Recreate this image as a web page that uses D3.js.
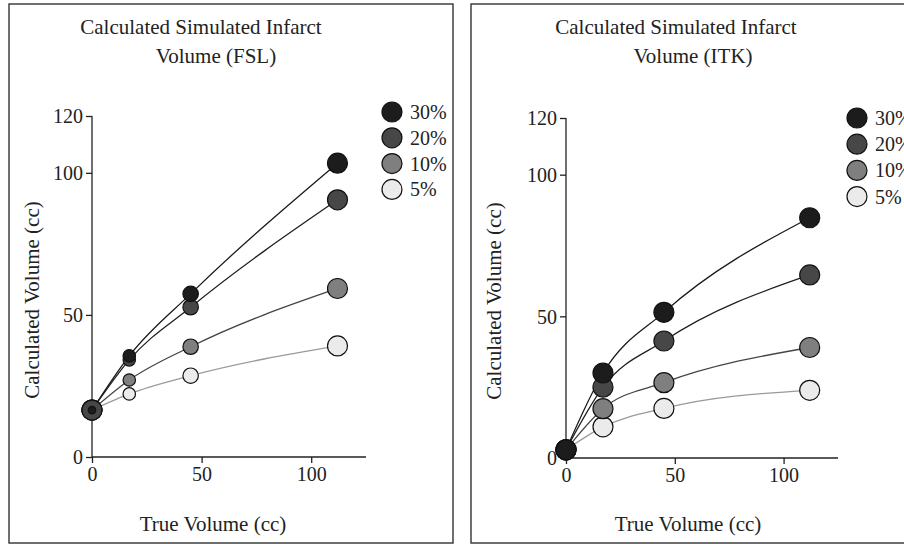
<!DOCTYPE html>
<meta charset="utf-8">
<script src="https://d3js.org/d3.v7.min.js"></script>
<title>Calculated Simulated Infarct Volume</title>
<style>
  body { margin: 0; background: white; }
  svg text { font-family: "Liberation Serif", "DejaVu Serif", serif; fill: #222; }
</style>
<div id="chart"></div>
<script>
// true volumes (cc) on the x axis
var trueVolumes = [0, 17, 45, 112];
var seriesLabels = ["30%", "20%", "10%", "5%"];

// calculated volumes, FSL
var fsl30 = [16.5, 35.6, 57.4, 103.4];
var fsl20 = [16.5, 34.2, 52.7, 90.5];
var fsl10 = [16.5, 27.1, 38.8, 59.3];
var fsl5  = [16.5, 22.2, 28.6, 39.1];

// calculated volumes, ITK
var itk30 = [2.9, 30.0, 51.4, 84.8];
var itk20 = [2.9, 25.0, 41.3, 64.6];
var itk10 = [2.9, 17.4, 26.6, 39.0];
var itk5  = [2.9, 11.0, 17.5, 23.9];

var xTicks = [0, 50, 100];
var yTicks = [0, 50, 100, 120];

var fills = ["#1c1c1c", "#474747", "#7f7f7f", "#ebebeb"];
var lineColors = ["#1a1a1a", "#1f1f1f", "#444", "#9a9a9a"];

var svg = d3.select("#chart").append("svg")
    .attr("width", 904)
    .attr("height", 544);

var panels = [
  { title: ["Calculated Simulated Infarct", "Volume (FSL)"], titleX: [201, 216],
    values: [fsl30, fsl20, fsl10, fsl5],
    frame: [9, 4, 444, 539], x0: 92, x1: 366, y0: 457, y1: 116,
    yTitleX: 39, yTitleY: 300, xTitleX: 213, legendX: 392, legendY: 112, legendStep: 25.8,
    sized: true },
  { title: ["Calculated Simulated Infarct", "Volume (ITK)"], titleX: [676, 693],
    values: [itk30, itk20, itk10, itk5],
    frame: [471, 4, 460, 539], x0: 566, x1: 838, y0: 458, y1: 118,
    yTitleX: 501, yTitleY: 301, xTitleX: 688, legendX: 857, legendY: 118, legendStep: 26.2,
    sized: false }
];

panels.forEach(function(p) {
  var g = svg.append("g");

  g.append("rect")
    .attr("x", p.frame[0]).attr("y", p.frame[1])
    .attr("width", p.frame[2]).attr("height", p.frame[3])
    .attr("fill", "none").attr("stroke", "#333").attr("stroke-width", 1.4);

  g.selectAll(".title").data(p.title).enter().append("text")
    .attr("x", function(d, i) { return p.titleX[i]; })
    .attr("y", function(d, i) { return 34 + i * 29; })
    .attr("text-anchor", "middle")
    .style("font-size", "21px")
    .text(function(d) { return d; });

  var x = d3.scaleLinear().domain([0, 125]).range([p.x0, p.x1]);
  var y = d3.scaleLinear().domain([0, 120]).range([p.y0, p.y1]);

  var xAxis = g.append("g")
    .attr("transform", "translate(0," + p.y0 + ")")
    .call(d3.axisBottom(x).tickValues(xTicks).tickSize(6).tickPadding(4));
  var yAxis = g.append("g")
    .attr("transform", "translate(" + p.x0 + ",0)")
    .call(d3.axisLeft(y).tickValues(yTicks).tickSize(6).tickPadding(3));
  [xAxis, yAxis].forEach(function(a) {
    a.select(".domain").attr("stroke", "#222").attr("stroke-width", 1.3);
    a.selectAll(".tick line").attr("stroke", "#222").attr("stroke-width", 1.3);
    a.selectAll(".tick text").style("font-size", "20px")
      .style("font-family", "Liberation Serif, serif").attr("fill", "#222");
  });
  // axis lines stop at the data range
  xAxis.select(".domain").attr("d", "M" + p.x0 + ",0H" + p.x1);
  yAxis.select(".domain").attr("d", "M0," + p.y0 + "V" + y(120));
  yAxis.selectAll(".tick text").attr("dy", "0.34em");

  g.append("text")
    .attr("transform", "translate(" + p.yTitleX + "," + p.yTitleY + ") rotate(-90)")
    .attr("text-anchor", "middle")
    .style("font-size", "21px")
    .text("Calculated Volume (cc)");

  g.append("text")
    .attr("x", p.xTitleX).attr("y", 531)
    .attr("text-anchor", "middle")
    .style("font-size", "21px")
    .text("True Volume (cc)");

  var line = d3.line()
    .x(function(d) { return x(d[0]); })
    .y(function(d) { return y(d[1]); })
    .curve(d3.curveMonotoneX);

  var series = p.values.map(function(vals, i) {
    return { i: i, pts: trueVolumes.map(function(t, j) { return [t, vals[j]]; }) };
  });

  // lines, lightest underneath
  series.slice().reverse().forEach(function(s) {
    g.append("path")
      .attr("d", line(s.pts))
      .attr("fill", "none")
      .attr("stroke", lineColors[s.i])
      .attr("stroke-width", 1.3);
  });

  // point size rule for the FSL panel: grows with true volume
  var rScale = d3.scaleSqrt().domain([0, 112]).range([3.8, 10]);
  function radius(s, d) {
    if (!p.sized) return 10;
    if (d[0] === 0 && s.i > 0) return 10;
    return rScale(d[0]);
  }

  series.slice().reverse().forEach(function(s) {
    g.selectAll(null).data(s.pts).enter().append("circle")
      .attr("cx", function(d) { return x(d[0]); })
      .attr("cy", function(d) { return y(d[1]); })
      .attr("r", function(d) { return radius(s, d); })
      .attr("fill", fills[s.i])
      .attr("stroke", "#111")
      .attr("stroke-width", 1.2);
  });

  // legend
  var lg = g.selectAll(".lg").data(seriesLabels).enter().append("g")
    .attr("transform", function(d, i) {
      return "translate(" + p.legendX + "," + (p.legendY + i * p.legendStep) + ")";
    });
  lg.append("circle").attr("r", 10)
    .attr("fill", function(d, i) { return fills[i]; })
    .attr("stroke", "#111").attr("stroke-width", 1.2);
  lg.append("text").attr("x", 18).attr("dy", "0.35em")
    .style("font-size", "20px")
    .text(function(d) { return d; });
});
</script>
